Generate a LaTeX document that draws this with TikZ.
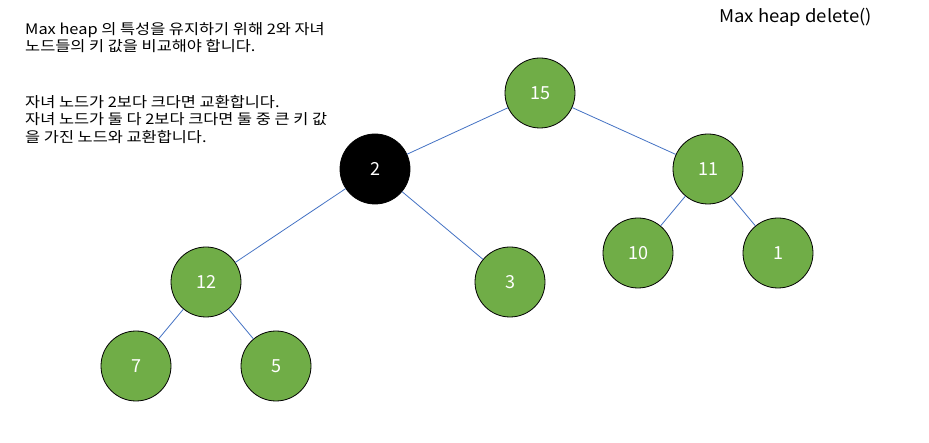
\documentclass[tikz,border=0pt]{standalone}
\usepackage{fontspec}
\setmainfont{Noto Sans CJK KR}
\newfontfamily\widekr[FakeStretch=1.13]{Noto Sans CJK KR}
\newfontfamily\widetitle[FakeStretch=1.06]{Noto Sans CJK KR}
\definecolor{nodegreen}{HTML}{70AD47}
\definecolor{edgeblue}{HTML}{4472C4}
\begin{document}
\begin{tikzpicture}[x=1pt,y=-1pt,
  heapnode/.style={circle,draw=black,line width=0.8pt,fill=nodegreen,minimum size=70pt,inner sep=0pt,text=white,font=\fontsize{18}{18}\selectfont},
  hotnode/.style={heapnode,fill=black},
  edge/.style={draw=edgeblue,line width=0.8pt},
  note/.style={anchor=north west,align=left,inner sep=0pt,font=\widekr\fontsize{14.5}{17.5}\selectfont}]
\useasboundingbox (0,0) rectangle (929,443);
\fill[white] (0,0) rectangle (929,443);
\node[heapnode] (n15) at (540,93) {15};
\node[hotnode] (n2) at (375,169) {2};
\node[heapnode] (n11) at (708,169) {11};
\node[heapnode] (n10) at (638,253) {10};
\node[heapnode] (n1) at (778,253) {1};
\node[heapnode] (n12) at (206,282) {12};
\node[heapnode] (n3) at (510,282) {3};
\node[heapnode] (n7) at (136,366) {7};
\node[heapnode] (n5) at (276,366) {5};
\draw[edge] (n15) -- (n2);
\draw[edge] (n15) -- (n11);
\draw[edge] (n11) -- (n10);
\draw[edge] (n11) -- (n1);
\draw[edge] (n2) -- (n12);
\draw[edge] (n2) -- (n3);
\draw[edge] (n12) -- (n7);
\draw[edge] (n12) -- (n5);
\node[note] (t1) at (25,22) {Max heap 의 특성을 유지하기 위해 2와 자녀\\노드들의 키 값을 비교해야 합니다.};
\node[note] (t2) at (25,95) {자녀 노드가 2보다 크다면 교환합니다.\\자녀 노드가 둘 다 2보다 크다면 둘 중 큰 키 값\\을 가진 노드와 교환합니다.};
\node[anchor=west,inner sep=0pt,font=\widetitle\fontsize{17.5}{17.5}\selectfont] (title) at (719,17) {Max heap delete()};
\end{tikzpicture}
\end{document}
